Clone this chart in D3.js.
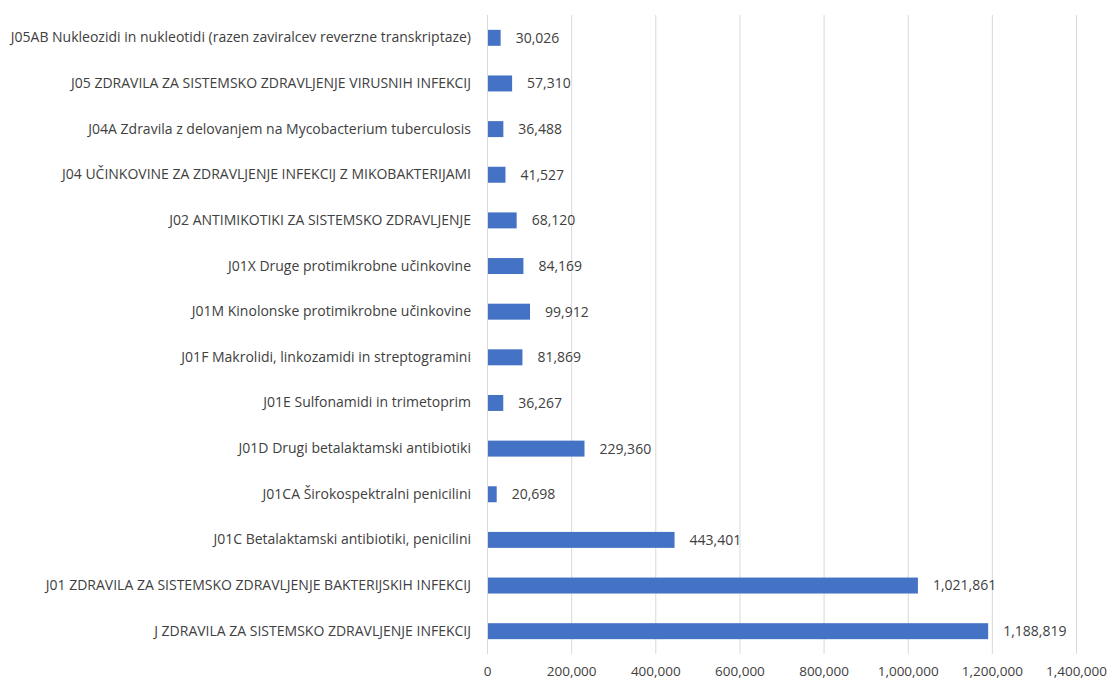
<!DOCTYPE html>
<html>
<head>
<meta charset="utf-8">
<script src="https://cdn.jsdelivr.net/npm/d3@7"></script>
<style>
  body { margin: 0; background: #fff; }
  text { font-family: "Open Sans", sans-serif; fill: #404040; }
</style>
</head>
<body>
<div class="chart"></div>
<script>
// categories, top to bottom
const categories = [
  "J05AB Nukleozidi in nukleotidi (razen zaviralcev reverzne transkriptaze)",
  "J05 ZDRAVILA ZA SISTEMSKO ZDRAVLJENJE VIRUSNIH INFEKCIJ",
  "J04A Zdravila z delovanjem na Mycobacterium tuberculosis",
  "J04 UČINKOVINE ZA ZDRAVLJENJE INFEKCIJ Z MIKOBAKTERIJAMI",
  "J02 ANTIMIKOTIKI ZA SISTEMSKO ZDRAVLJENJE",
  "J01X Druge protimikrobne učinkovine",
  "J01M Kinolonske protimikrobne učinkovine",
  "J01F Makrolidi, linkozamidi in streptogramini",
  "J01E Sulfonamidi in trimetoprim",
  "J01D Drugi betalaktamski antibiotiki",
  "J01CA Širokospektralni penicilini",
  "J01C Betalaktamski antibiotiki, penicilini",
  "J01 ZDRAVILA ZA SISTEMSKO ZDRAVLJENJE BAKTERIJSKIH INFEKCIJ",
  "J ZDRAVILA ZA SISTEMSKO ZDRAVLJENJE INFEKCIJ"
];
const values = [30026, 57310, 36488, 41527, 68120, 84169, 99912, 81869, 36267, 229360, 20698, 443401, 1021861, 1188819];
const ticks = [0, 200000, 400000, 600000, 800000, 1000000, 1200000, 1400000];

const data = categories.map((c, i) => ({ cat: c, val: values[i] }));

const margin = ({top: 15, right: 33, bottom: 28, left: 487});
const W = 1109, H = 682;
const w = W - margin.left - margin.right;
const h = H - margin.top - margin.bottom;

const svg = d3.select(".chart")
  .append("svg")
  .attr("width", W)
  .attr("height", H)
  .append("g")
  .attr("transform", "translate(" + margin.left + "," + margin.top + ")");

const x = d3.scaleLinear().domain([0, 1400000]).range([0, w]);
const y = d3.scaleBand().domain(categories).range([0, h]).paddingInner(0.65).paddingOuter(0.325);

// gridlines
svg.append("g")
  .selectAll("line")
  .data(ticks)
  .join("line")
  .attr("x1", d => x(d) + 0.5).attr("x2", d => x(d) + 0.5)
  .attr("y1", 0).attr("y2", h)
  .attr("stroke", "#d9d9d9")
  .attr("stroke-width", 1);

// x axis
const xAxis = d3.axisBottom(x)
  .tickValues(ticks)
  .tickSize(0)
  .tickPadding(12)
  .tickFormat(d3.format(","));
const xg = svg.append("g")
  .attr("transform", `translate(0, ${h})`)
  .call(xAxis);
xg.select(".domain").remove();
xg.selectAll("text").style("font-size", "13.5px").attr("fill", "#404040");

// y axis
const yAxis = d3.axisLeft(y).tickSize(0).tickPadding(16);
const yg = svg.append("g").call(yAxis);
yg.select(".domain").remove();
yg.selectAll("text").style("font-size", "14px").attr("fill", "#404040");

// bars
svg.selectAll(".bar")
  .data(data)
  .join("rect")
  .attr("class", "bar")
  .attr("x", 1)
  .attr("y", d => y(d.cat))
  .attr("width", d => x(d.val))
  .attr("height", y.bandwidth())
  .style("fill", "#4472c4");

// value labels
svg.selectAll(".lbl")
  .data(data)
  .join("text")
  .attr("class", "lbl")
  .attr("x", d => x(d.val) + 16)
  .attr("y", d => y(d.cat) + y.bandwidth() / 2)
  .attr("dy", "0.35em")
  .style("font-size", "14px")
  .text(d => d3.format(",")(d.val));
</script>
</body>
</html>
